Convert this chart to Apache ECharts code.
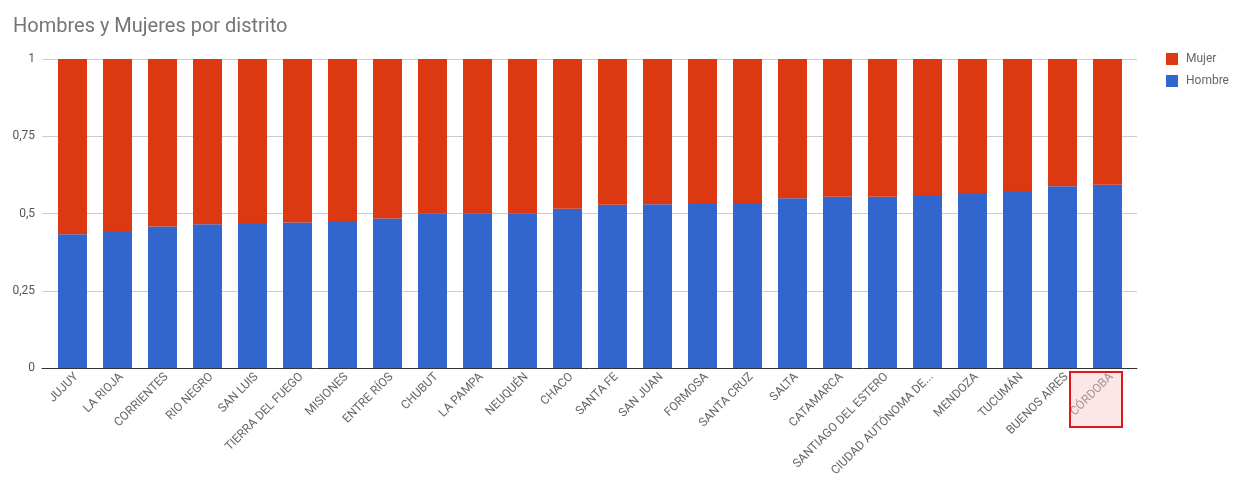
<!DOCTYPE html>
<html>
<head>
<meta charset="utf-8">
<script src="https://cdn.jsdelivr.net/npm/echarts@6/dist/echarts.min.js"></script>
<style>
  html, body { margin: 0; padding: 0; background: #fff; }
  #chart { width: 1246px; height: 483px; }
</style>
</head>
<body>
<div id="chart"></div>
<script>
// distritos, ordenados por proporción de hombres
const distritos = [
  'JUJUY', 'LA RIOJA', 'CORRIENTES', 'RIO NEGRO', 'SAN LUIS', 'TIERRA DEL FUEGO',
  'MISIONES', 'ENTRE RÍOS', 'CHUBUT', 'LA PAMPA', 'NEUQUÉN', 'CHACO', 'SANTA FE',
  'SAN JUAN', 'FORMOSA', 'SANTA CRUZ', 'SALTA', 'CATAMARCA', 'SANTIAGO DEL ESTERO',
  'CIUDAD AUTÓNOMA DE BUENOS AIRES', 'MENDOZA', 'TUCUMÁN', 'BUENOS AIRES', 'CÓRDOBA'
];
const hombre = [
  0.433, 0.443, 0.458, 0.465, 0.469, 0.471, 0.476, 0.484, 0.501, 0.501, 0.501, 0.515,
  0.528, 0.530, 0.534, 0.534, 0.549, 0.554, 0.554, 0.560, 0.563, 0.573, 0.588, 0.593
];
const mujer = [
  0.567, 0.557, 0.542, 0.535, 0.531, 0.529, 0.524, 0.516, 0.499, 0.499, 0.499, 0.485,
  0.472, 0.470, 0.466, 0.466, 0.451, 0.446, 0.446, 0.440, 0.437, 0.427, 0.412, 0.407
];
const yTicks = ['0', '0,25', '0,5', '0,75', '1'];
const destacado = 'CÓRDOBA';

const chart = echarts.init(document.getElementById('chart'));
const fuente = 'Roboto, "Noto Sans", sans-serif';

const option = {
  animation: false,
  textStyle: { fontFamily: fuente },
  title: {
    text: 'Hombres y Mujeres por distrito',
    left: 8,
    top: 12,
    textStyle: { fontSize: 20, fontWeight: 'normal', color: '#757575', fontFamily: fuente }
  },
  legend: {
    orient: 'vertical',
    left: 1161,
    top: 48,
    itemWidth: 12,
    itemHeight: 12,
    itemGap: 10,
    icon: 'rect',
    data: ['Mujer', 'Hombre'],
    textStyle: { fontSize: 12, color: '#666', padding: [0, 0, 0, 3] }
  },
  grid: [
    // barras
    { left: 50, right: 116, top: 59, bottom: 115 },
    // líneas de guía (más anchas que la zona de barras)
    { left: 42, right: 109, top: 59, bottom: 115 },
    // etiquetas de categoría, un poco corridas a la derecha
    { left: 54, right: 112, top: 59, bottom: 115 }
  ],
  xAxis: [
    {
      type: 'category',
      gridIndex: 0,
      data: distritos,
      axisLine: { show: false },
      axisTick: { show: false },
      axisLabel: { show: false }
    },
    {
      type: 'value',
      gridIndex: 1,
      min: 0,
      max: 1,
      z: 5,
      axisLine: { show: true, lineStyle: { color: '#333', width: 1 } },
      axisTick: { show: false },
      axisLabel: { show: false },
      splitLine: { show: false }
    },
    {
      type: 'category',
      gridIndex: 2,
      data: distritos,
      axisLine: { show: false },
      axisTick: { show: false },
      axisLabel: {
        interval: 0,
        rotate: 45,
        margin: 7,
        fontSize: 12,
        color: '#666',
        formatter: (v) => v.length > 20 ? v.slice(0, 18) + '...' : v
      }
    }
  ],
  yAxis: [
    { type: 'value', gridIndex: 0, min: 0, max: 1, show: false },
    {
      type: 'value',
      gridIndex: 1,
      min: 0,
      max: 1,
      interval: 0.25,
      axisLine: { show: false },
      axisTick: { show: false },
      axisLabel: {
        fontSize: 12,
        color: '#555',
        margin: 7,
        formatter: (v) => yTicks[Math.round(v / 0.25)]
      },
      splitLine: { lineStyle: { color: '#ccc' } }
    },
    { type: 'value', gridIndex: 2, min: 0, max: 1, show: false }
  ],
  series: [
    {
      name: 'Hombre',
      type: 'bar',
      stack: 'total',
      xAxisIndex: 0,
      yAxisIndex: 0,
      barCategoryGap: '35.6%',
      itemStyle: { color: '#3366cc' },
      data: hombre
    },
    {
      name: 'Mujer',
      type: 'bar',
      stack: 'total',
      xAxisIndex: 0,
      yAxisIndex: 0,
      itemStyle: { color: '#dc3912' },
      data: mujer
    }
  ]
};

chart.setOption(option);

// recuadro de resaltado sobre la etiqueta destacada
const cx = chart.convertToPixel({ xAxisIndex: 0 }, destacado);
const y0 = chart.convertToPixel({ yAxisIndex: 0 }, 0);
chart.setOption({
  graphic: [{
    type: 'rect',
    z: 100,
    shape: { x: cx - 37.5, y: y0 + 4, width: 52, height: 55 },
    style: { fill: 'rgba(250,200,200,0.45)', stroke: '#e0181b', lineWidth: 2 }
  }]
});
</script>
</body>
</html>
